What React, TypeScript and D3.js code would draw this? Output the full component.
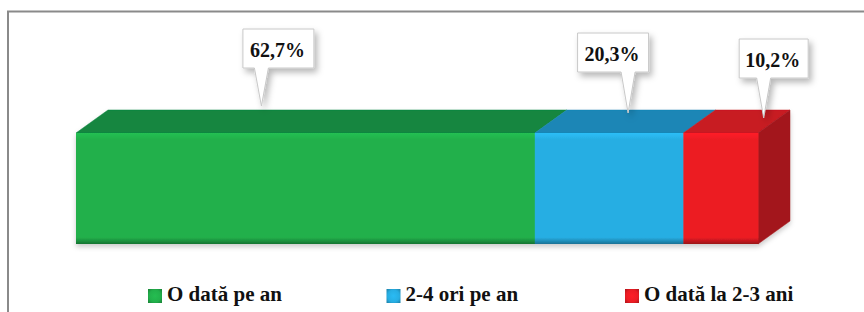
import React from "react";
import * as d3 from "d3";

const categories = ["O dată pe an", "2-4 ori pe an", "O dată la 2-3 ani"];
const values = [62.7, 20.3, 10.2];
const valueLabels = ["62,7%", "20,3%", "10,2%"];

const frontColors = ["#22b04b", "#27aee3", "#ec1c24"];
const topColors = ["#128640", "#1a86b6", "#c81a20"];
const sideColor = "#a3191d";

// callout layout (relative to segment centre)
const tipOffsets = [-44, 19, 43];
const tipYs = [106, 113, 118];
const boxOffsets = [-27, 4, 53];
const boxTops = [29, 33, 39];
const boxWidths = [71, 71, 69];

const W = 864;
const H = 312;
const DX = 32;
const DY = 23;
const FRONT_TOP = 133;
const FRONT_BOTTOM = 244;

const css = `
.serif-txt { font-family: "Liberation Serif", Tinos, "Times New Roman", serif !important; font-weight: 700; }
`;

export default function App() {
  const total = d3.sum(values);
  const x = d3.scaleLinear().domain([0, total]).range([76, 758]);
  const starts = values.map((_, i) => d3.sum(values.slice(0, i)));
  const segs = values.map((v, i) => ({ x0: x(starts[i]), x1: x(starts[i] + v), i }));
  const legendX = d3.scaleBand().domain(categories).range([148, 148 + 238.5 * 3]);

  return (
    <div style={{ position: "absolute", left: 0, top: 0, width: W, height: H, background: "#fff", fontFamily: "Liberation Serif, serif" }}>
      <style>{css}</style>
      <svg width={W} height={H} style={{ display: "block" }}>
        <defs>
          <filter id="cshadow2" x="-20%" y="-20%" width="150%" height="150%">
            <feDropShadow dx="3" dy="4" stdDeviation="3" floodColor="#000" floodOpacity="0.28" />
          </filter>
          <filter id="bshadow2" x="-5%" y="-10%" width="110%" height="130%">
            <feDropShadow dx="0" dy="3" stdDeviation="2.5" floodColor="#000" floodOpacity="0.2" />
          </filter>
          {frontColors.map((c, i) => (
            <linearGradient key={i} id={`fgr${i}`} x1="0" y1="0" x2="0" y2="1">
              <stop offset="0" stopColor={d3.color(c)!.brighter(0.25).toString()} />
              <stop offset="0.06" stopColor={c} />
              <stop offset="0.94" stopColor={c} />
              <stop offset="0.975" stopColor={d3.color(c)!.darker(0.6).toString()} />
              <stop offset="1" stopColor={d3.color(c)!.darker(1.2).toString()} />
            </linearGradient>
          ))}
          {frontColors.map((c, i) => (
            <radialGradient key={i} id={`lgr${i}`} cx="0.5" cy="0.5" r="0.7">
              <stop offset="0" stopColor={d3.color(c)!.brighter(0.2).toString()} />
              <stop offset="0.6" stopColor={c} />
              <stop offset="1" stopColor={d3.color(c)!.darker(0.9).toString()} />
            </radialGradient>
          ))}
        </defs>

        <path d={`M8,${H} V11.5 H${W}`} fill="none" stroke="#8a8a8a" strokeWidth={2} />

        <g filter="url(#bshadow2)">
          {segs.map((s) => (
            <polygon
              key={`t${s.i}`}
              points={`${s.x0},${FRONT_TOP} ${s.x1},${FRONT_TOP} ${s.x1 + DX},${FRONT_TOP - DY} ${s.x0 + DX},${FRONT_TOP - DY}`}
              fill={topColors[s.i]}
              stroke={topColors[s.i]}
              strokeWidth={0.5}
              strokeLinejoin="round"
            />
          ))}
          <polygon
            points={`${segs[2].x1},${FRONT_TOP} ${segs[2].x1 + DX},${FRONT_TOP - DY} ${segs[2].x1 + DX},${FRONT_BOTTOM - DY} ${segs[2].x1},${FRONT_BOTTOM}`}
            fill={sideColor}
            stroke={sideColor}
            strokeWidth={0.5}
            strokeLinejoin="round"
          />
          {segs.map((s) => (
            <rect
              key={`f${s.i}`}
              x={s.x0}
              y={FRONT_TOP}
              width={s.x1 - s.x0 + 0.5}
              height={FRONT_BOTTOM - FRONT_TOP}
              fill={`url(#fgr${s.i})`}
            />
          ))}
        </g>

        {segs.map((s) => {
          const cx = (s.x0 + s.x1) / 2;
          const tipX = cx + tipOffsets[s.i];
          const tipY = tipYs[s.i];
          const bw = boxWidths[s.i];
          const bx = cx + boxOffsets[s.i] - bw / 2;
          const by = boxTops[s.i];
          const bh = 39;
          const pb0 = Math.max(bx + 4, Math.min(tipX - 7, bx + bw - 18));
          const pb1 = pb0 + 14;
          return (
            <g key={`c${s.i}`}>
              <path
                d={`M${bx},${by} H${bx + bw} V${by + bh} H${pb1} L${tipX},${tipY} L${pb0},${by + bh} H${bx} Z`}
                fill="#fff"
                stroke="#c8c8c8"
                strokeWidth={1}
                filter="url(#cshadow2)"
              />
              <text
                className="serif-txt"
                x={bx + bw / 2 - 1}
                y={by + 27.5}
                textAnchor="middle"
                fontSize={20}
                fill="#111"
              >
                {valueLabels[s.i]}
              </text>
            </g>
          );
        })}

        {categories.map((c, i) => {
          const lx = legendX(c)!;
          return (
            <g key={`l${i}`}>
              <rect x={lx} y={289} width={14} height={14} fill={`url(#lgr${i})`} />
              <text className="serif-txt" x={lx + 19} y={301} fontSize={21} fill="#111">
                {c}
              </text>
            </g>
          );
        })}
      </svg>
    </div>
  );
}
